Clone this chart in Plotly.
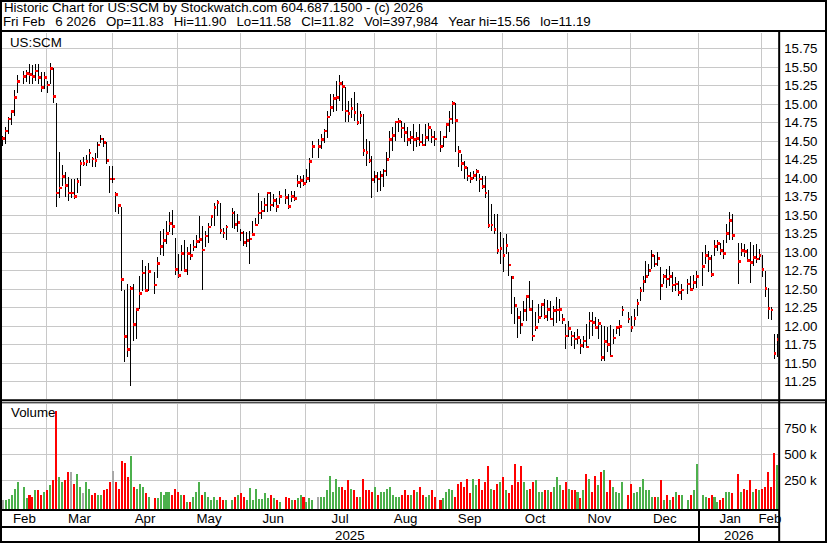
import numpy as np
import pandas as pd
import plotly.graph_objects as go

# ---------------- calendar (weekday slots; market holidays leave an empty slot) -------------
first_day = "2025-02-07"
last_day = "2026-02-06"
holidays = ["2025-02-17", "2025-04-18", "2025-05-26", "2025-06-19", "2025-07-04",
            "2025-09-01", "2025-11-27", "2025-12-25", "2026-01-01", "2026-01-19"]

# ---------------- daily data, trading days in order ----------------
high = [
    # Feb 2025
    14.57, 14.70, 14.83, 14.92, 15.20, 15.39, 15.45, 15.47, 15.54, 15.53, 15.54, 15.54, 15.43, 15.43, 15.32,
    # Mar
    15.56, 15.49, 15.02, 14.35, 14.18, 14.09, 14.02, 13.99, 13.99, 14.00, 14.25, 14.29, 14.31, 14.40, 14.29,
    14.34, 14.49, 14.58, 14.54, 14.49, 14.16,
    # Apr
    14.16, 13.82, 13.65, 13.61, 12.49, 12.57, 12.55, 12.57, 12.25, 12.68, 12.89, 12.82, 12.86, 12.74, 12.94,
    13.29, 13.32, 13.42, 13.55, 13.57, 13.20,
    # May
    12.98, 13.10, 13.17, 13.07, 13.11, 13.16, 13.24, 13.49, 13.35, 13.29, 13.40, 13.51, 13.66, 13.71, 13.67,
    13.33, 13.37, 13.60, 13.56, 13.52, 13.31,
    # Jun
    13.29, 13.27, 13.29, 13.42, 13.47, 13.80, 13.70, 13.74, 13.82, 13.82, 13.79, 13.74, 13.83, 13.85, 13.79,
    13.83, 13.83, 14.05, 14.03, 14.05,
    # Jul
    14.12, 14.28, 14.50, 14.53, 14.60, 14.66, 14.91, 15.14, 15.14, 15.32, 15.39, 15.32, 15.24, 15.05, 15.09,
    15.16, 15.02, 14.91, 14.87, 14.53, 14.50, 14.30,
    # Aug
    14.10, 14.08, 14.10, 14.12, 14.35, 14.64, 14.69, 14.78, 14.82, 14.78, 14.75, 14.69, 14.64, 14.73, 14.62,
    14.73, 14.60, 14.73, 14.75, 14.66, 14.64,
    # Sep
    14.64, 14.57, 14.75, 14.91, 15.05, 15.02, 14.44, 14.33, 14.24, 14.15, 14.08, 14.10, 14.13, 14.06, 14.03,
    14.03, 13.84, 13.65, 13.52, 13.52, 13.27,
    # Oct
    13.20, 13.25, 13.00, 12.68, 12.39, 12.25, 12.21, 12.34, 12.41, 12.61, 12.35, 12.19, 12.30, 12.32, 12.37,
    12.35, 12.34, 12.28, 12.39, 12.37, 12.16, 12.03, 12.07,
    # Nov
    11.94, 11.92, 11.96, 11.83, 11.87, 12.03, 12.19, 12.20, 12.12, 12.10, 12.02, 12.01, 11.99, 12.02, 11.96,
    12.01, 12.08, 12.28, 12.19,
    # Dec
    12.14, 12.23, 12.37, 12.53, 12.68, 12.88, 12.84, 13.03, 12.97, 13.01, 12.80, 12.71, 12.77, 12.82, 12.73,
    12.66, 12.61, 12.57, 12.64, 12.68, 12.70, 12.75,
    # Jan 2026
    13.00, 13.10, 13.02, 12.97, 13.16, 13.16, 13.13, 13.16, 13.38, 13.54, 13.52, 13.13, 13.13, 13.11, 13.04,
    13.14, 13.10, 13.11, 13.04, 12.97,
    # Feb 2026
    12.75, 12.52, 12.26, 11.89, 11.90,
]

low = [
    # Feb 2025
    14.43, 14.47, 14.60, 14.72, 14.84, 15.15, 15.27, 15.30, 15.28, 15.27, 15.32, 15.27, 15.16, 15.21, 15.15,
    # Mar
    15.28, 15.02, 13.61, 13.74, 13.90, 13.75, 13.69, 13.73, 13.72, 13.80, 13.89, 14.16, 14.17, 14.21, 14.15,
    14.15, 14.28, 14.48, 14.42, 14.19, 13.80,
    # Apr
    13.94, 13.55, 13.52, 12.48, 11.52, 11.59, 11.19, 11.80, 11.83, 12.23, 12.48, 12.48, 12.48, 12.44, 12.65,
    12.97, 12.95, 13.11, 13.28, 13.24, 12.69,
    # May
    12.65, 12.75, 12.74, 12.69, 12.89, 13.02, 13.06, 13.13, 12.49, 13.07, 13.13, 13.35, 13.35, 13.49, 13.25,
    13.19, 13.16, 13.33, 13.32, 13.27, 13.15,
    # Jun
    13.09, 13.07, 12.84, 13.22, 13.36, 13.38, 13.45, 13.54, 13.54, 13.56, 13.61, 13.54, 13.65, 13.65, 13.58,
    13.68, 13.70, 13.88, 13.87, 13.90,
    # Jul
    13.94, 13.95, 14.28, 14.28, 14.39, 14.48, 14.55, 14.84, 14.89, 14.91, 15.05, 14.91, 14.76, 14.76, 14.82,
    14.78, 14.72, 14.74, 14.30, 14.17, 14.21, 13.73,
    # Aug
    13.94, 13.81, 13.83, 13.88, 14.03, 14.28, 14.37, 14.51, 14.62, 14.55, 14.49, 14.44, 14.46, 14.37, 14.42,
    14.44, 14.44, 14.44, 14.51, 14.48, 14.44,
    # Sep
    14.35, 14.42, 14.55, 14.62, 14.73, 14.35, 14.15, 14.10, 13.99, 13.97, 13.94, 13.99, 13.96, 13.81, 13.86,
    13.74, 13.33, 13.29, 13.25, 12.98, 12.84,
    # Oct
    12.73, 12.98, 12.68, 12.16, 12.03, 11.84, 11.90, 12.07, 12.07, 12.21, 11.80, 11.94, 12.05, 12.13, 12.10,
    12.07, 12.08, 12.01, 12.05, 12.07, 12.03, 11.69, 11.85,
    # Nov
    11.74, 11.69, 11.76, 11.62, 11.71, 11.71, 11.83, 11.87, 11.96, 11.83, 11.53, 11.53, 11.65, 11.60, 11.76,
    11.89, 11.87, 12.14, 12.05,
    # Dec
    11.92, 12.01, 12.14, 12.34, 12.46, 12.59, 12.68, 12.77, 12.80, 12.82, 12.35, 12.57, 12.52, 12.55, 12.46,
    12.48, 12.41, 12.35, 12.44, 12.48, 12.50, 12.52,
    # Jan 2026
    12.55, 12.84, 12.73, 12.66, 12.95, 13.02, 12.97, 12.91, 13.13, 13.17, 13.16, 12.57, 12.95, 12.93, 12.88,
    12.59, 12.82, 12.86, 12.90, 12.66,
    # Feb 2026
    12.40, 12.10, 12.08, 11.56, 11.58,
]

close = [
    # Feb 2025
    14.54, 14.64, 14.80, 14.90, 15.09, 15.31, 15.38, 15.42, 15.40, 15.38, 15.45, 15.36, 15.23, 15.36, 15.26,
    # Mar
    15.48, 15.11, 13.80, 13.87, 14.02, 13.90, 13.80, 13.80, 13.75, 13.96, 14.20, 14.20, 14.23, 14.34, 14.26,
    14.24, 14.45, 14.53, 14.48, 14.24, 13.99,
    # Apr
    13.99, 13.78, 13.63, 12.63, 11.86, 11.69, 12.51, 12.02, 12.23, 12.44, 12.72, 12.48, 12.74, 12.56, 12.85,
    13.08, 13.16, 13.25, 13.39, 13.35, 12.77,
    # May
    12.69, 12.98, 12.75, 12.98, 12.96, 13.07, 13.15, 13.17, 13.03, 13.22, 13.34, 13.48, 13.61, 13.67, 13.29,
    13.26, 13.34, 13.53, 13.38, 13.40, 13.26,
    # Jun
    13.13, 13.16, 13.18, 13.24, 13.37, 13.53, 13.56, 13.64, 13.80, 13.64, 13.70, 13.62, 13.75, 13.74, 13.62,
    13.75, 13.73, 13.94, 13.97, 13.93,
    # Jul
    14.00, 14.23, 14.43, 14.43, 14.52, 14.64, 14.83, 14.96, 15.08, 15.09, 15.28, 15.24, 14.91, 14.88, 14.94,
    14.89, 14.75, 14.85, 14.38, 14.35, 14.24, 13.98,
    # Aug
    14.02, 13.99, 14.04, 14.10, 14.25, 14.52, 14.58, 14.76, 14.77, 14.68, 14.62, 14.52, 14.55, 14.52, 14.54,
    14.49, 14.45, 14.55, 14.69, 14.56, 14.53,
    # Sep
    14.43, 14.56, 14.73, 14.80, 15.01, 14.78, 14.36, 14.20, 14.15, 14.03, 14.00, 14.04, 14.09, 13.99, 13.89,
    13.80, 13.36, 13.37, 13.31, 13.02, 13.05,
    # Oct
    12.96, 13.09, 12.83, 12.66, 12.28, 12.12, 12.02, 12.21, 12.40, 12.23, 11.87, 11.98, 12.12, 12.29, 12.13,
    12.23, 12.10, 12.21, 12.22, 12.23, 12.09, 11.87, 11.97,
    # Nov
    11.87, 11.83, 11.85, 11.74, 11.80, 11.72, 12.07, 12.05, 11.98, 12.04, 11.58, 11.79, 11.75, 11.60, 11.84,
    11.98, 12.00, 12.22, 12.10,
    # Dec
    11.98, 12.11, 12.31, 12.48, 12.61, 12.67, 12.75, 12.96, 12.84, 12.92, 12.55, 12.67, 12.64, 12.67, 12.56,
    12.57, 12.46, 12.49, 12.57, 12.50, 12.59, 12.67,
    # Jan 2026
    12.81, 12.96, 12.92, 12.70, 13.08, 13.12, 13.02, 12.98, 13.25, 13.43, 13.23, 12.88, 13.02, 13.01, 12.89,
    12.86, 12.93, 12.91, 12.96, 12.77,
    # Feb 2026
    12.51, 12.24, 12.22, 11.63, 11.82,
]

volume_k = [
    # Feb 2025
    70, 61, 77, 109, 173, 234, 186, 83, 118, 90, 166, 157, 109, 138, 166,
    # Mar
    205, 253, 926, 282, 243, 253, 330, 330, 215, 320, 192, 128, 243, 173, 118, 128, 118, 118, 166, 173, 234,
    # Apr
    349, 243, 176, 436, 426, 282, 484, 195, 176, 215, 195, 128, 99, 83, 83, 138, 109, 147, 138, 109, 176,
    # May
    138, 118, 118, 51, 42, 90, 138, 243, 109, 147, 90, 70, 90, 70, 90, 61, 70, 70, 99, 118, 128,
    # Jun
    99, 61, 182, 67, 176, 77, 77, 128, 80, 109, 80, 61, 42, 99, 80, 61, 70, 80, 109, 90,
    # Jul
    51, 80, 70, 99, 90, 99, 157, 301, 147, 263, 195, 186, 166, 253, 176, 157, 90, 90, 263, 166, 157, 147,
    # Aug
    186, 118, 138, 138, 176, 186, 109, 99, 90, 118, 157, 118, 118, 166, 138, 186, 118, 99, 118, 157, 90,
    # Sep
    70, 80, 138, 176, 166, 90, 215, 243, 186, 263, 128, 263, 205, 263, 157, 243, 388, 176, 157, 215, 234,
    # Oct
    282, 166, 128, 205, 416, 243, 388, 243, 166, 176, 234, 253, 147, 147, 166, 157, 144, 195, 291, 205,
    166, 243, 173,
    # Nov
    166, 157, 141, 83, 157, 311, 263, 138, 301, 205, 330, 352, 147, 253, 186, 138, 128, 243, 109,
    # Dec
    215, 128, 138, 186, 272, 157, 157, 90, 90, 99, 253, 70, 118, 61, 90, 138, 109, 109, 70, 118, 157, 407,
    # Jan 2026
    118, 99, 80, 109, 90, 42, 70, 80, 138, 138, 128, 320, 138, 176, 157, 253, 138, 176, 157, 176,
    # Feb 2026
    186, 339, 186, 522, 398,
]

price_ticks = [11.25, 11.50, 11.75, 12.00, 12.25, 12.50, 12.75, 13.00, 13.25, 13.50,
               13.75, 14.00, 14.25, 14.50, 14.75, 15.00, 15.25, 15.50, 15.75]
volume_ticks = [250000, 500000, 750000]
volume_tick_text = ["250 k", "500 k", "750 k"]
month_names = ["Feb", "Mar", "Apr", "May", "Jun", "Jul", "Aug", "Sep", "Oct", "Nov", "Dec", "Jan", "Feb"]
year_names = ["2025", "2026"]

header_line1 = "Historic Chart for US:SCM by Stockwatch.com 604.687.1500 - (c) 2026"
header_line2 = "Fri Feb  6 2026  Op=11.83  Hi=11.90  Lo=11.58  Cl=11.82  Vol=397,984  Year hi=15.56  lo=11.19"
symbol_label = "US:SCM"
volume_label = "Volume"

# ---------------- styling / geometry ----------------
W, H = 830, 543
FONT = "Liberation Sans, Arial, Helvetica, sans-serif"
FS = 13.3
GRID = "#C8C8C8"
UP, DOWN, FLAT = "#4CB04C", "#FF0000", "#A8A8A8"


def fx(px):
    return px / W


def fy(py):
    return 1 - py / H


SLOT_PX = 2.989      # pixels per weekday slot
SLOT0_PX = 2.7       # pixel position of the first slot
PLOT_L, PLOT_R = 2.0, 781.0
x_range = [(PLOT_L - SLOT0_PX) / SLOT_PX, (PLOT_R - SLOT0_PX) / SLOT_PX]

# price axis: 15.50 at y=67.3 px, 74 px per unit
PRICE_TOP, PRICE_BOT = 33.0, 399.0
y_range = [15.5 - (PRICE_BOT - 67.3) / 74.0, 15.5 - (PRICE_TOP - 67.3) / 74.0]
# volume axis: zero at y=506.3 px, 26 px per 250k
VOL_TOP, VOL_BOT = 403.5, 509.0
v_range = [(506.3 - VOL_BOT) / 26.0 * 250000, (506.3 - VOL_TOP) / 26.0 * 250000]
vol_floor = v_range[0]

# ---------------- derived positions ----------------
weekdays = pd.bdate_range(first_day, last_day)
trade_days = weekdays[~weekdays.isin(pd.to_datetime(holidays))]
slot_of = pd.Series(np.arange(len(weekdays)), index=weekdays)
xs = slot_of[trade_days].to_numpy().astype(float)
n = len(xs)

hi = np.array(high[:n], dtype=float)
lo = np.array(low[:n], dtype=float)
cl = np.array(close[:n], dtype=float)
vol = np.array(volume_k[:n], dtype=float) * 1000

vol_colors = []
for i in range(n):
    if i == 0 or cl[i] == cl[i - 1]:
        vol_colors.append(FLAT)
    elif cl[i] > cl[i - 1]:
        vol_colors.append(UP)
    else:
        vol_colors.append(DOWN)

month_starts = pd.date_range("2025-03-01", "2026-02-01", freq="MS")
bounds = [float(weekdays.searchsorted(m, side="right") - 1) - 0.2 for m in month_starts]
edges = [x_range[0]] + bounds + [x_range[1]]
mids = [(edges[i] + edges[i + 1]) / 2 for i in range(len(edges) - 1)]
year_bound = bounds[[m.month for m in month_starts].index(1)]
year_mids = [(x_range[0] + year_bound) / 2, (year_bound + x_range[1]) / 2]

hl_x, hl_y = [], []
for xv, h, l in zip(xs, hi, lo):
    hl_x += [xv, xv, None]
    hl_y += [l, h, None]

fig = go.Figure()
fig.add_trace(go.Scatter(x=hl_x, y=hl_y, mode="lines", line=dict(color="black", width=1),
                         xaxis="x", yaxis="y", hoverinfo="skip"))
fig.add_trace(go.Scatter(x=xs + 0.33, y=cl, mode="markers",
                         marker=dict(symbol="square", size=2.7, color="#FF0000", line=dict(width=0)),
                         xaxis="x", yaxis="y", hoverinfo="skip"))
fig.add_trace(go.Bar(x=xs, y=vol - vol_floor, base=vol_floor, width=0.68,
                     marker=dict(color=vol_colors, line=dict(width=0)),
                     xaxis="x2", yaxis="y2", hoverinfo="skip"))

tickfont = dict(family=FONT, size=FS, color="black")
fig.update_layout(
    width=W, height=H,
    margin=dict(l=0, r=0, t=0, b=0),
    paper_bgcolor="white", plot_bgcolor="white",
    showlegend=False,
    bargap=0,
    xaxis=dict(domain=[fx(PLOT_L), fx(PLOT_R)], range=x_range, anchor="y",
               tickmode="array", tickvals=bounds, showticklabels=False, ticks="",
               showgrid=True, gridcolor=GRID, gridwidth=1, zeroline=False, showline=False,
               fixedrange=True),
    yaxis=dict(domain=[fy(PRICE_BOT), fy(PRICE_TOP)], range=y_range, anchor="x", side="right",
               tickmode="array", tickvals=price_ticks, ticktext=[f"{v:.2f}" for v in price_ticks],
               ticks="", ticklabelstandoff=5, tickfont=tickfont,
               showgrid=True, gridcolor=GRID, gridwidth=1, zeroline=False, showline=False,
               fixedrange=True),
    xaxis2=dict(domain=[fx(PLOT_L), fx(PLOT_R)], range=x_range, anchor="y2",
                tickmode="array", tickvals=mids, ticktext=month_names, ticks="",
                ticklabelstandoff=0, tickfont=tickfont,
                showgrid=False, zeroline=False, showline=False,
                minor=dict(tickmode="array", tickvals=bounds, showgrid=True, gridcolor=GRID,
                           gridwidth=1, ticks=""),
                fixedrange=True),
    yaxis2=dict(domain=[fy(VOL_BOT), fy(VOL_TOP)], range=v_range, anchor="x2", side="right",
                tickmode="array", tickvals=volume_ticks, ticktext=volume_tick_text,
                ticks="", ticklabelstandoff=5, tickfont=tickfont,
                showgrid=True, gridcolor=GRID, gridwidth=1, zeroline=False, showline=False,
                fixedrange=True),
)

ann = []
ann.append(dict(text=header_line1.replace("  ", " \u00a0"), x=fx(2), y=fy(7.5), xref="paper", yref="paper",
                xanchor="left", yanchor="middle", showarrow=False, font=tickfont))
ann.append(dict(text=header_line2.replace("  ", " \u00a0\u2009"), x=fx(1), y=fy(21.5), xref="paper",
                yref="paper", xanchor="left", yanchor="middle", showarrow=False, font=tickfont))
ann.append(dict(text=symbol_label, x=fx(8), y=fy(42), xref="paper", yref="paper",
                xanchor="left", yanchor="middle", showarrow=False, font=tickfont))
ann.append(dict(text=volume_label, x=fx(9), y=fy(413), xref="paper", yref="paper",
                xanchor="left", yanchor="middle", showarrow=False, font=tickfont))
for xm, name in zip(year_mids, year_names):
    ann.append(dict(text=name, x=xm, y=fy(535), xref="x2", yref="paper",
                    xanchor="center", yanchor="middle", showarrow=False, font=tickfont))
fig.update_layout(annotations=ann)


def hline(py, x0, x1, w):
    return dict(type="line", xref="paper", yref="paper", x0=fx(x0), x1=fx(x1), y0=fy(py), y1=fy(py),
                line=dict(color="black", width=w), layer="above")


def vline(px, y0, y1, w):
    return dict(type="line", xref="paper", yref="paper", x0=fx(px), x1=fx(px), y0=fy(y0), y1=fy(y1),
                line=dict(color="black", width=w), layer="above")


shapes = [
    dict(type="rect", xref="paper", yref="paper", x0=fx(1), x1=fx(829), y0=fy(1), y1=fy(542),
         line=dict(color="black", width=2), layer="above"),
    hline(31, 0, W, 2),
    vline(782, 31, H, 2),
    hline(400.2, 0, W, 2),
    hline(402.8, 0, W, 1),
    hline(510, 0, 782, 2),
    hline(527, 0, 782, 2),
    dict(type="line", xref="x2", yref="paper", x0=year_bound, x1=year_bound, y0=fy(510), y1=fy(543),
         line=dict(color="black", width=2), layer="above"),
]
fig.update_layout(shapes=shapes)

post = """
document.body.style.margin='0';
document.body.style.overflow='hidden';
var gd = document.querySelector('.plotly-graph-div');
function crisp(){
  gd.querySelectorAll('.scatterlayer path, .barlayer path, .gridlayer path').forEach(function(p){
    p.style.shapeRendering='crispEdges';
  });
}
crisp();
if (gd && gd.on) { gd.on('plotly_afterplot', crisp); }
"""
fig.write_html("out.html", config={"displayModeBar": False}, post_script=post)
